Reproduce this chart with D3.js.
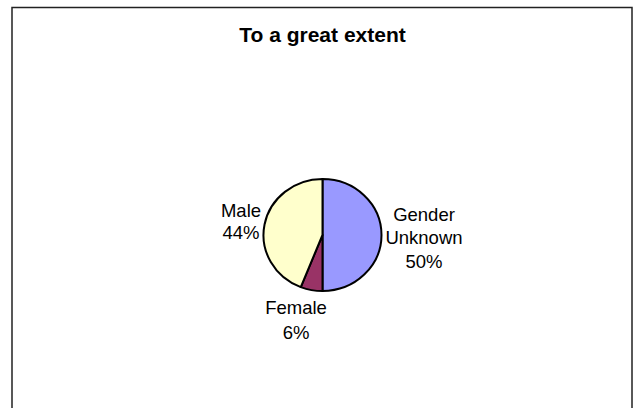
<!DOCTYPE html>
<html>
<head>
<meta charset="utf-8">
<script src="https://cdn.jsdelivr.net/npm/d3@7"></script>
<style>
  html, body { margin: 0; padding: 0; background: #fff; }
  svg { display: block; }
  text { font-family: "Liberation Sans", Arial, sans-serif; fill: #000; }
</style>
</head>
<body>
<svg id="chart" width="636" height="408"></svg>
<script>
// ---- data ----
const title = "To a great extent";
const categories = ["Gender Unknown", "Female", "Male"];
const labelLines = [["Gender", "Unknown"], ["Female"], ["Male"]];
const values = [50, 6, 44];
const colors = ["#9999FF", "#993366", "#FFFFCC"];

// ---- layout ----
const svg = d3.select("#chart");

// chart frame
svg.append("rect")
  .attr("x", 12).attr("y", 7.5)
  .attr("width", 620).attr("height", 430)
  .attr("fill", "#fff")
  .attr("stroke", "#222")
  .attr("stroke-width", 1.5);

// title
svg.append("text")
  .attr("x", 322.5).attr("y", 41.5)
  .attr("text-anchor", "middle")
  .attr("font-size", 21)
  .attr("font-weight", "bold")
  .text(title);

const cx = 322.5, cy = 235, rx = 59, ry = 56;
const pie = d3.pie().sort(null).value(d => d)(values);
const arc = d3.arc().innerRadius(0).outerRadius(rx);

const g = svg.append("g")
  .attr("transform", `translate(${cx},${cy}) scale(1,${ry / rx})`);

g.selectAll("path")
  .data(pie)
  .join("path")
  .attr("d", arc)
  .attr("fill", (d, i) => colors[i])
  .attr("stroke", "#000")
  .attr("stroke-width", 2)
  .attr("vector-effect", "non-scaling-stroke")
  .attr("stroke-linejoin", "round");

// labels: first-line baseline offsets from pie centre (layout only)
const labelOffset = [[101.5, -14], [-26.5, 79], [-81.5, -18]];
const lineH = [23.3, 25, 22];
const total = d3.sum(values);
const fmt = v => Math.round(v / total * 100) + "%";

pie.forEach((d, i) => {
  const lines = labelLines[i].concat([fmt(values[i])]);
  const lx = cx + labelOffset[i][0];
  const y0 = cy + labelOffset[i][1];
  const t = svg.append("text")
    .attr("text-anchor", "middle")
    .attr("font-size", 18.5);
  lines.forEach((s, k) => {
    t.append("tspan")
      .attr("x", lx)
      .attr("y", y0 + k * lineH[i])
      .text(s);
  });
});
</script>
</body>
</html>
